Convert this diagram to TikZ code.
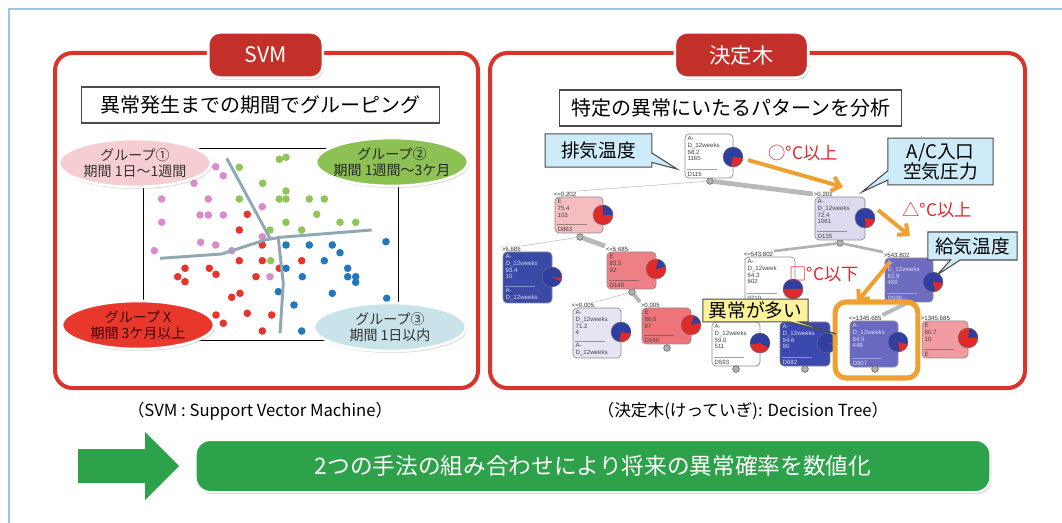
\documentclass[tikz,border=0pt]{standalone}
\usepackage{fontspec}
\setmainfont{Noto Sans CJK JP}
\newfontfamily\arialf{Liberation Sans}
\usetikzlibrary{shapes.geometric,shapes.callouts,arrows.meta,fit,shadows}
\definecolor{panelred}{HTML}{D8342B}
\definecolor{tabred}{HTML}{C3302A}
\definecolor{frameblue}{HTML}{9DC3E6}
\definecolor{gpink}{HTML}{F6CDD0}
\definecolor{ggreen}{HTML}{8DC153}
\definecolor{gred}{HTML}{E8382C}
\definecolor{gblue}{HTML}{C8E4EA}
\definecolor{dpink}{HTML}{D98CCB}
\definecolor{dgreen}{HTML}{92C557}
\definecolor{dred}{HTML}{E8342A}
\definecolor{dblue}{HTML}{2079C0}
\definecolor{sepc}{HTML}{8FA9B4}
\definecolor{callblue}{HTML}{CDEBF8}
\definecolor{callyellow}{HTML}{FBF29A}
\definecolor{orng}{HTML}{F0A030}
\definecolor{lblred}{HTML}{E4262B}
\definecolor{bgreen}{HTML}{2DA24A}
\definecolor{pieblue}{HTML}{2F3F9F}
\definecolor{piered}{HTML}{E02A2A}
\definecolor{ndark}{HTML}{444444}
\definecolor{nlight}{HTML}{D8DCF4}
\definecolor{n863}{HTML}{F6BDC0}
\definecolor{ndkb}{HTML}{3A4AA6}
\definecolor{n140}{HTML}{EE8085}
\definecolor{nlav}{HTML}{E6E4F3}
\definecolor{n866}{HTML}{EE7479}
\definecolor{n135}{HTML}{DCDAEE}
\definecolor{n536}{HTML}{6E6CC0}
\definecolor{n682}{HTML}{3B48AE}
\definecolor{n807}{HTML}{6A69C2}
\definecolor{ne807}{HTML}{F29CA2}
\newcommand\TNode[9]{%
  \coordinate (#1-nw) at (#2,#3);
  \coordinate (#1-se) at (#4,#5);
  \node[tbox, fill=#6, fit=(#1-nw)(#1-se)] (#1) {};
  \node[ttext, text=#7, anchor=north west] (#1-top) at ([shift={(2pt,-1.5pt)}]#1.north west) {#8};
  \node[ttext, text=#7, anchor=south west] (#1-bot) at ([shift={(2pt,1.5pt)}]#1.south west) {#9};
  \draw[draw=#7, opacity=0.5, line width=0.3pt] ([yshift=1.5pt]#1-bot.north west) -- ++(22pt,0);
}
\newcommand\TPie[7]{%
  \node[piec, fill=#4] (#1) at (#2,#3) {};
  \fill[#5] (#1.center) -- ([shift={(#6:7.5pt)}]#1.center) arc[start angle=#6, end angle=#7, radius=7.5pt] -- cycle;
  \draw[black!55, line width=0.3pt] (#1.center) circle[radius=7.5pt];
}
\begin{document}
\begin{tikzpicture}[x=0.75pt,y=-0.75pt,
  panel/.style={draw=panelred, line width=3pt, rounded corners=13pt, fill=white, drop shadow={opacity=0.25, shadow xshift=1pt, shadow yshift=-1.5pt}},
  tab/.style={fill=tabred, draw=white, line width=2pt, rounded corners=9pt, text=white, font=\fontsize{16}{18}\selectfont, minimum height=34pt, drop shadow={opacity=0.35, shadow xshift=1pt, shadow yshift=-1.5pt}},
  titlebox/.style={draw=black!70, line width=0.8pt, fill=white, font=\fontsize{15}{17}\selectfont, minimum height=27pt},
  gell/.style={ellipse, draw=white, line width=2pt, minimum width=114pt, minimum height=36pt, inner sep=0pt, drop shadow={opacity=0.3, shadow xshift=1pt, shadow yshift=-1.5pt}},
  gtext/.style={align=center, font=\fontsize{10.5}{12}\selectfont, inner sep=0pt},
  sepline/.style={draw=sepc, line width=2.2pt, line join=round},
  tbox/.style={draw=black!45, line width=0.5pt, rounded corners=3pt, inner sep=0pt},
  ttext/.style={font=\arialf\fontsize{4.6}{5.2}\selectfont, align=left, inner sep=0pt},
  elbl/.style={font=\arialf\fontsize{4.6}{5}\selectfont, inner sep=0.4pt, text=black!80},
  piec/.style={circle, minimum size=15pt, inner sep=0pt},
  conn/.style={circle, fill=gray!60, draw=gray!70!black, line width=0.4pt, minimum size=5pt, inner sep=0pt},
  thickedge/.style={draw=gray!55, line width=3.6pt},
  medge/.style={draw=gray!60, line width=2pt},
  thinedge/.style={draw=gray!45, line width=0.5pt},
  oarrow/.style={draw=orng, line width=3pt, -{Straight Barb[length=6pt,width=11pt,line width=3pt]}},
  olbl/.style={text=lblred, font=\fontsize{13}{15}\selectfont, inner sep=0pt},
  callb/.style={rectangle callout, draw=black!70, fill=callblue, line width=0.8pt, inner sep=1pt, font=\fontsize{14}{15.5}\selectfont, align=center},
  hl/.style={draw=orng, line width=3.8pt, rounded corners=8pt},
  captxt/.style={font=\fontsize{12.5}{14}\selectfont, inner sep=0pt}
]
\useasboundingbox (0,0) rectangle (1062,523);
% outer frame
\draw[frameblue, line width=2.2pt] (9,523) -- (9,9) -- (1062,9);

% ===== left panel (SVM)
\draw[panel] (55,53) rectangle (478,388);
\node[tab, minimum width=86pt] (tabsvm) at (265.5,55) {SVM};
\node[titlebox, minimum width=268pt] (title1) at (260.5,105) {異常発生までの期間でグルーピング};
\draw[black, line width=0.6pt] (143,148) rectangle (398,340);
% dots
\foreach \a/\b in {215.7/166.7, 223.3/175.7, 194/183.3, 161.7/199, 208.3/199, 262.3/206.7, 200/215, 208.3/215, 223.3/215, 161.7/222.3, 262.3/236.7, 200.7/242.3, 215.7/245, 231.7/250.7, 154.3/250.7, 270/276.7}
  \fill[dpink] (\a,\b) circle[radius=3.8];
\foreach \a/\b in {279.3/159.3, 286/157.3, 239.3/167.3, 262.7/183.3, 286/191, 239.3/199, 279.3/199, 286/199, 309.3/199, 324.3/199, 316.7/214.3, 286/222.3, 340/222.3, 355.7/222.3, 270/230, 301.7/230, 270.7/260.7}
  \fill[dgreen] (\a,\b) circle[radius=3.8];
\foreach \a/\b in {247.3/214.3, 239.3/230, 262.3/245, 239.3/260.7, 262.3/260.7, 301.7/260.7, 185/268.3, 209.3/268.3, 216/274.3, 177.7/276.7, 185/281.7, 279.3/268.3, 256/276.7, 240/293.3, 231.7/297.3, 247.3/313.3, 271.7/315, 216/315, 223.3/323.3, 262.3/331}
  \fill[dred] (\a,\b) circle[radius=3.8];
\foreach \a/\b in {286/245, 309.3/245, 332.3/245, 386/241.7, 340/252.7, 324.3/260.7, 286/268.3, 302.3/276.7, 347.7/268.3, 347.7/276.7, 355.7/276.7, 355.7/282.3, 278.3/291.7, 332.3/293.3, 386.7/298.3, 294/305, 301.7/331}
  \fill[dblue] (\a,\b) circle[radius=3.8];
% boundaries
\draw[sepline] (226.7,158.3) -- (270,238.3);
\draw[sepline] (160,258.3) -- (221.7,254) -- (265,240) -- (280,237.3) -- (371.7,230);
\draw[sepline] (278.3,238.3) -- (283.3,283.3) -- (280,333.3);
% group ellipses
\node[gell, fill=gpink] (g1) at (135,163) {};
\node[gtext, text=black!80] (g1t) at (g1) {グループ①\\期間 1日～1週間};
\node[gell, fill=ggreen] (g2) at (392,162) {};
\node[gtext, text=black!85] (g2t) at (g2) {グループ②\\期間 1週間～3ケ月};
\node[gell, fill=gred] (gx) at (138,325) {};
\node[gtext, text=black!75!red] (gxt) at (gx) {グループ X\\期間 3ケ月以上};
\node[gell, fill=gblue] (g3) at (390,327) {};
\node[gtext, text=black!80] (g3t) at (g3) {グループ③\\期間 1日以内};
\node[captxt] (cap1) at (260,411) {（SVM : Support Vector Machine）};

% ===== right panel (decision tree)
\draw[panel] (490,53) rectangle (1025,388);
\node[tab, minimum width=100pt] (tabdt) at (741.5,55) {決定木};
\node[titlebox, minimum width=257pt] (title2) at (730.5,108) {特定の異常にいたるパターンを分析};

% edge labels
\node[elbl, anchor=south west] (l863) at (553,197) {<=0.202};
\node[elbl, anchor=south west] (l135) at (813,197) {>0.202};
\node[elbl, anchor=south west] (ldkb) at (501,252) {>5.685};
\node[elbl, anchor=south west] (l140) at (605,252) {<=5.685};
\node[elbl, anchor=south west] (llav) at (571,308) {<=0.005};
\node[elbl, anchor=south west] (le866) at (640,308) {>0.005};
\node[elbl, anchor=south west] (l710) at (743,257) {<=543.802};
\node[elbl, anchor=south west] (l536) at (883,258) {>543.802};
\node[elbl, anchor=south west] (l807) at (848,321) {<=1345.685};
\node[elbl, anchor=south west] (le807) at (920,321) {>1345.685};

% connector dots (positions)
\node[conn] (croot) at (710,181) {};
\node[conn] (c863) at (580,237) {};
\node[conn] (c140) at (632,292) {};
\node[conn] (c135) at (840,243) {};
\coordinate (c536) at (907,303);

% tree edges
\draw[thickedge] (croot) -- (l135.west);
\draw[thinedge] (croot) -- (l863.north east);
\draw[thickedge] (c863) -- (l140.north west);
\draw[thinedge] (c863) -- (ldkb.north east);
\draw[thickedge, line width=3pt] (c140) -- (le866.north west);
\draw[thinedge] (c140) -- (llav.north east);
\draw[medge] (c135) -- (l710.north east);
\draw[medge] (c135) -- (l536.north west);
\draw[thickedge, line width=3pt] (c536) -- (l807.north east);

% tree nodes
\TNode{root}{685}{134}{733}{178}{white}{ndark}{A-\\D\_12weeks\\68.2\\1165}{D115}
\TPie{proot}{733}{157}{pieblue}{piered}{-100}{-5}
\TNode{d863}{555}{197}{603}{233}{n863}{ndark}{E\\75.4\\103}{D863}
\TPie{p863}{603}{215}{piered}{pieblue}{0}{90}
\TNode{dkb}{503}{252}{552}{303}{ndkb}{nlight}{A-\\D\_12weeks\\93.4\\10}{A-\\D\_12weeks}
\TPie{pdkb}{552}{277}{pieblue}{piered}{-25}{-5}
\TNode{d140}{607}{252}{656}{289}{n140}{ndark}{E\\83.5\\92}{D140}
\TPie{p140}{656}{269}{piered}{pieblue}{15}{75}
\TNode{lav}{573}{308}{621}{358}{nlav}{ndark}{A-\\D\_12weeks\\71.2\\4}{A-\\D\_12weeks}
\TPie{plav}{621}{332}{pieblue}{piered}{-100}{-10}
\TNode{e866}{642}{308}{691}{344}{n866}{ndark}{E\\86.6\\97}{D140}
\TPie{pe866}{691}{325}{piered}{pieblue}{15}{70}
\TNode{d135}{815}{197}{865}{240}{n135}{ndark}{A-\\D\_12weeks\\72.4\\1061}{D135}
\TPie{p135}{865}{218}{pieblue}{piered}{-85}{-10}
\TNode{d710}{745}{257}{795}{302}{white}{ndark}{A-\\D\_12week\\64.3\\602}{0710}
\TPie{p710}{793}{289}{pieblue}{piered}{180}{360}
\TNode{d536}{885}{258}{933}{302}{n536}{nlight}{A-\\D\_12weeks\\82.9\\459}{D536}
\TPie{p536}{933}{282}{pieblue}{piered}{-75}{-5}
\TNode{d593}{712}{322}{760}{366}{white}{ndark}{A-\\D\_12weeks\\59.0\\511}{D593}
\TPie{p593}{760}{343}{pieblue}{piered}{-170}{-30}
\TNode{d682}{780}{322}{830}{366}{n682}{nlight}{A-\\D\_12weeks\\94.6\\90}{D682}
\TPie{p682}{827}{343}{pieblue}{piered}{-15}{0}
\TNode{d807}{850}{321}{898}{367}{n807}{nlight}{A-\\D\_12weeks\\84.5\\448}{D807}
\TPie{p807}{898}{342}{pieblue}{piered}{-80}{-15}
\TNode{e807}{922}{321}{968}{358}{ne807}{ndark}{E\\80.7\\10}{E}
\TPie{pe807}{968}{338}{piered}{pieblue}{0}{80}
\node[conn] (c593) at (736,369) {};
\node[conn] (c682) at (805,369) {};
\node[conn] (c807) at (875,369) {};
\node[conn] (ce866) at (667,348) {};

% highlight
\node[hl, minimum width=62pt, minimum height=57pt] (hlbox) at (876.5,340) {};

% orange arrows
\coordinate (o1s) at (748,160); \coordinate (o1e) at (843,187);
\coordinate (o2s) at (878,210); \coordinate (o2e) at (910,236);
\coordinate (o3s) at (890,262); \coordinate (o3e) at (857,302);
\draw[oarrow] (o1s) -- (o1e);
\draw[oarrow] (o2s) -- (o2e);
\draw[oarrow] (o3s) -- (o3e);
\node[olbl] (t1) at (803,153) {○°C以上};
\node[olbl] (t2) at (937,210) {△°C以上};
\node[olbl] (t3) at (824,274) {□°C以下};

% callouts
\coordinate (k1) at (677,169);
\coordinate (k2) at (862,192);
\coordinate (k3) at (937,275);
\coordinate (k4) at (836,334);
\node[callb, minimum width=80pt, minimum height=25pt, callout absolute pointer={(k1)}] (cb1) at (598.5,150.5) {排気温度};
\node[callb, minimum width=79pt, minimum height=35pt, font=\fontsize{14}{15}\selectfont, callout absolute pointer={(k2)}] (cb2) at (940.5,161.5) {A/C入口\\空気圧力};
\node[callb, minimum width=67pt, minimum height=21pt, callout absolute pointer={(k3)}] (cb3) at (972.5,246) {給気温度};
\node[callb, fill=callyellow, minimum width=79pt, minimum height=17pt, callout absolute pointer={(k4)}] (cb4) at (755.5,310.5) {異常が多い};

\node[captxt] (cap2) at (743,411) {（決定木(けっていぎ): Decision Tree）};

% ===== bottom
\fill[bgreen] (78,449) -- (145,449) -- (145,432) -- (179,466) -- (145,500) -- (145,483) -- (78,483) -- cycle;
\node[fill=bgreen, draw=white, line width=1.5pt, rounded corners=11pt, minimum width=596pt, minimum height=39pt, text=white, font=\fontsize{17}{20}\selectfont, drop shadow={opacity=0.3, shadow xshift=1pt, shadow yshift=-1.5pt}] (res) at (593,466) {2つの手法の組み合わせにより将来の異常確率を数値化};
\end{tikzpicture}
\end{document}
